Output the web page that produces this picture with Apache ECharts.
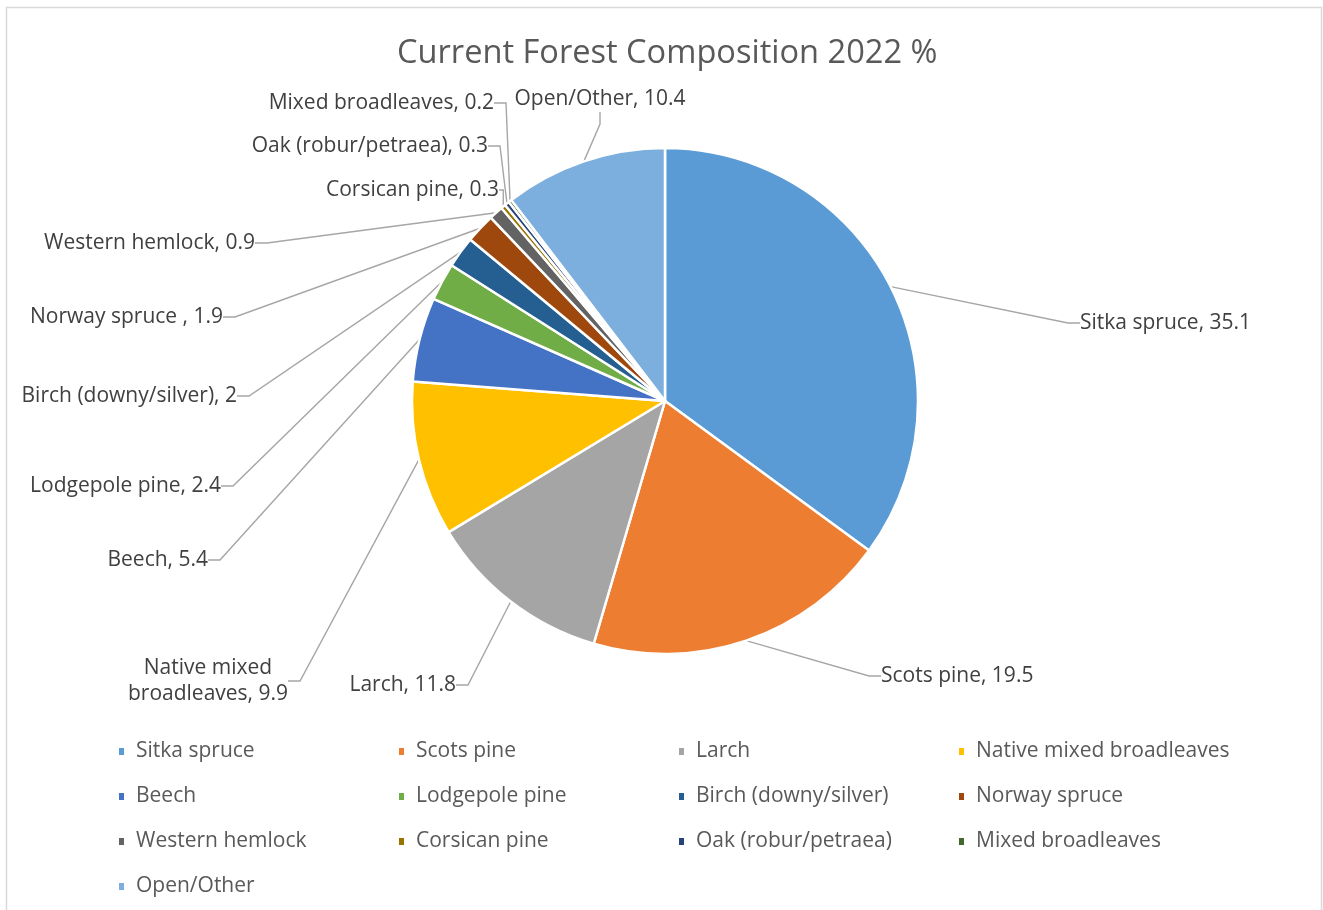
<!DOCTYPE html>
<html>
<head>
<meta charset="utf-8">
<title>Current Forest Composition 2022 %</title>
<script src="https://cdn.jsdelivr.net/npm/echarts@6/dist/echarts.min.js"></script>
<style>
  html, body { margin: 0; padding: 0; background: #ffffff; }
  #chart { width: 1323px; height: 910px; }
</style>
</head>
<body>
<div id="chart"></div>
<script>
// Species shares of current forest area (%)
const species = [
  'Sitka spruce', 'Scots pine', 'Larch', 'Native mixed broadleaves',
  'Beech', 'Lodgepole pine', 'Birch (downy/silver)', 'Norway spruce ',
  'Western hemlock', 'Corsican pine', 'Oak (robur/petraea)', 'Mixed broadleaves',
  'Open/Other'
];
const shares = [35.1, 19.5, 11.8, 9.9, 5.4, 2.4, 2, 1.9, 0.9, 0.3, 0.3, 0.2, 10.4];
const sliceColors = [
  '#5B9BD5', '#ED7D31', '#A5A5A5', '#FFC000',
  '#4472C4', '#70AD47', '#255E91', '#9E480E',
  '#636363', '#997300', '#264478', '#43682B',
  '#7CAFDD'
];

// Where each data label sits: [x, y, text alignment]
const labelSpots = [
  [1080, 323, 'left'],
  [881, 676, 'left'],
  [456, 685, 'right'],
  [208, 681, 'center'],
  [208, 560, 'right'],
  [221, 486, 'right'],
  [237, 396, 'right'],
  [223, 317, 'right'],
  [255, 243, 'right'],
  [499, 190, 'right'],
  [488, 146, 'right'],
  [494, 103, 'right'],
  [600, 99, 'center']
];

const labelText = {
  'Native mixed broadleaves': 'Native mixed\nbroadleaves'
};

const chart = echarts.init(document.getElementById('chart'), null, { renderer: 'canvas' });

const fontFamily = '"Open Sans", "Noto Sans", sans-serif';

chart.setOption({
  backgroundColor: '#ffffff',
  animation: false,
  title: {
    text: 'Current Forest Composition 2022 %',
    left: 392,
    top: 32,
    textStyle: {
      fontFamily: fontFamily,
      fontSize: 32.6,
      fontWeight: 'normal',
      color: '#595959'
    }
  },
  graphic: [{
    type: 'rect',
    shape: { x: 6.5, y: 7.5, width: 1315, height: 930 },
    style: { fill: 'none', stroke: '#D9D9D9', lineWidth: 1.5 },
    silent: true,
    z: -1
  }],
  legend: {
    left: 112,
    top: 724,
    width: 1140,
    orient: 'horizontal',
    itemWidth: 7,
    itemHeight: 9,
    itemGap: 0,
    icon: 'rect',
    textStyle: {
      fontFamily: fontFamily,
      fontSize: 21,
      color: '#595959',
      width: 261,
      height: 45,
      lineHeight: 45,
      padding: [0, 0, 0, 6]
    },
    data: species
  },
  series: [{
    type: 'pie',
    center: [665, 401],
    radius: 253,
    startAngle: 90,
    clockwise: true,
    avoidLabelOverlap: false,
    color: sliceColors,
    itemStyle: { borderColor: '#ffffff', borderWidth: 2.5 },
    label: {
      show: true,
      fontFamily: fontFamily,
      fontSize: 21,
      color: '#404040',
      lineHeight: 26,
      formatter: function (p) {
        const name = labelText[p.name] || p.name;
        return name + ', ' + p.value;
      }
    },
    labelLine: {
      show: true,
      length: 20,
      length2: 12,
      smooth: false,
      lineStyle: { color: '#A6A6A6', width: 1.4 }
    },
    labelLayout: function (params) {
      const spot = labelSpots[params.dataIndex];
      return {
        x: spot[0],
        y: spot[1],
        align: spot[2],
        verticalAlign: 'middle'
      };
    },
    emphasis: { disabled: true },
    data: species.map(function (name, i) {
      return { name: name, value: shares[i] };
    })
  }]
});
</script>
</body>
</html>
